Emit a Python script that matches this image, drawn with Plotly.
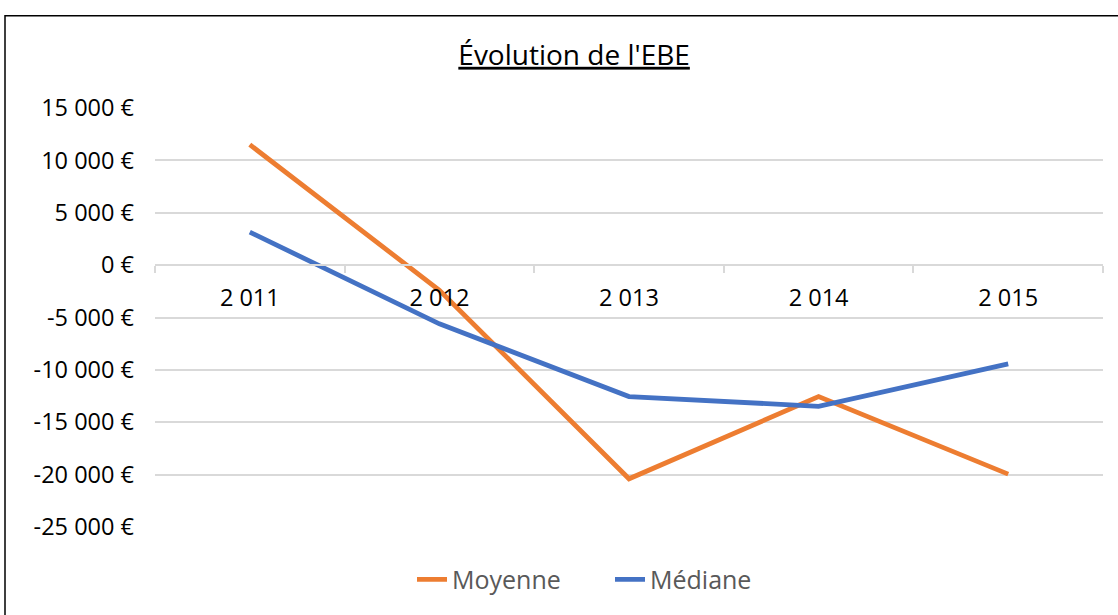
import plotly.graph_objects as go

# EBE par année (en euros)
years = ["2 011", "2 012", "2 013", "2 014", "2 015"]
moyenne = [11500, -2400, -20400, -12550, -19950]
mediane = [3150, -5600, -12550, -13480, -9430]

y_tick_vals = [15000, 10000, 5000, 0, -5000, -10000, -15000, -20000, -25000]
y_tick_text = ["15 000 €", "10 000 €", "5 000 €", "0 €", "-5 000 €",
               "-10 000 €", "-15 000 €", "-20 000 €", "-25 000 €"]

W, H = 1118, 615
PL, PR, PT, PB = 155, 1103, 107.5, 527.3  # plot area in pixels

FONT = "Open Sans"

fig = go.Figure()
fig.add_trace(go.Scatter(x=years, y=moyenne, name="Moyenne", mode="lines",
                         line=dict(color="#ED7D31", width=4.8)))
fig.add_trace(go.Scatter(x=years, y=mediane, name="Médiane", mode="lines",
                         line=dict(color="#4472C4", width=4.8)))

ymin, ymax = -25000, 15000
zero_pos = (0 - ymin) / (ymax - ymin)

fig.update_layout(
    width=W, height=H, autosize=False,
    margin=dict(l=PL, r=W - PR, t=PT, b=H - PB, pad=0),
    paper_bgcolor="white", plot_bgcolor="white",
    font=dict(family=FONT, color="#000000"),
    title=dict(text="<u>Évolution de l'EBE</u>", x=0.5135, xanchor="center",
               y=1 - 55 / H, yanchor="middle", yref="container",
               font=dict(family=FONT, size=28, color="#000000")),
    showlegend=True,
    legend=dict(orientation="h", x=(412 - PL) / (PR - PL), xanchor="left",
                y=(PB - 580) / (PB - PT), yanchor="middle",
                entrywidth=153, entrywidthmode="pixels",
                font=dict(family=FONT, size=25, color="#595959"),
                bgcolor="rgba(0,0,0,0)"),
    xaxis=dict(type="category", range=[-0.5, 4.5], anchor="free",
               position=zero_pos, showline=True, linecolor="#D9D9D9",
               linewidth=1.5, showgrid=False, ticks="outside",
               tickson="boundaries", ticklen=7, tickcolor="#D9D9D9",
               tickwidth=1.5, ticklabelstandoff=12,
               tickfont=dict(family=FONT, size=23.5, color="#000000"),
               zeroline=False),
    yaxis=dict(range=[ymin, ymax], tickmode="array", tickvals=y_tick_vals,
               ticktext=y_tick_text, showgrid=True, gridcolor="#D9D9D9",
               gridwidth=1.5, zeroline=False, showline=False, ticks="",
               ticklabelstandoff=20,
               tickfont=dict(family=FONT, size=23.5, color="#000000")),
)

# chart border
fig.add_shape(type="rect", xref="paper", yref="paper",
              x0=(5 - PL) / (PR - PL), x1=(1125 - PL) / (PR - PL),
              y0=(PB - 625) / (PB - PT), y1=(PB - 15) / (PB - PT),
              line=dict(color="#000000", width=1.5), layer="below")

fig.write_html("out.html")
